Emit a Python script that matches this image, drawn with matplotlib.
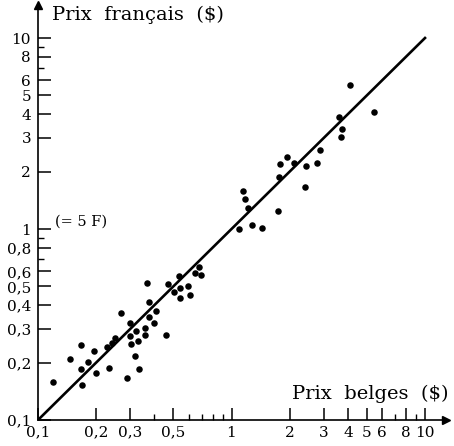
import matplotlib

matplotlib.use("Agg")
import matplotlib.pyplot as plt
from matplotlib.ticker import FixedLocator, NullFormatter

# prix belges (x) et prix français (y), en dollars
prix_belges = [
    0.119, 0.146, 0.166, 0.166, 0.168, 0.181, 0.194, 0.199, 0.226, 0.233,
    0.240, 0.249, 0.270, 0.290, 0.298, 0.300, 0.301, 0.316, 0.320, 0.327,
    0.333, 0.358, 0.358, 0.368, 0.373, 0.376, 0.397, 0.405, 0.460, 0.471,
    0.502, 0.537, 0.539, 0.539, 0.594, 0.609, 0.646, 0.683, 0.694,
    1.09, 1.28, 1.43, 1.14, 1.18, 1.21, 1.74, 1.76, 1.79, 1.93, 2.11,
    2.39, 2.44, 2.78, 2.87, 3.59, 3.72, 3.69, 4.12, 5.48,
]
prix_francais = [
    0.158, 0.209, 0.248, 0.185, 0.152, 0.201, 0.231, 0.176, 0.240, 0.187,
    0.254, 0.270, 0.362, 0.166, 0.321, 0.274, 0.251, 0.216, 0.294, 0.258,
    0.186, 0.303, 0.280, 0.522, 0.413, 0.347, 0.322, 0.371, 0.280, 0.514,
    0.466, 0.567, 0.491, 0.435, 0.501, 0.453, 0.590, 0.633, 0.572,
    1.00, 1.05, 1.01, 1.58, 1.44, 1.29, 1.24, 1.87, 2.18, 2.39, 2.22,
    1.65, 2.14, 2.21, 2.59, 3.87, 3.34, 3.02, 5.68, 4.11,
]

droite = [0.1, 10]

x_major = [0.1, 0.2, 0.3, 0.5, 1, 2, 3, 4, 5, 6, 8, 10]
x_major_labels = ["0,1", "0,2", "0,3", "0,5", "1", "2", "3", "4", "5", "6", "8", "10"]
x_minor = [0.4, 0.6, 0.7, 0.8, 0.9, 7, 9]

y_major = [0.1, 0.2, 0.3, 0.4, 0.5, 0.6, 0.8, 1, 2, 3, 4, 5, 6, 8, 10]
y_major_labels = ["0,1", "0,2", "0,3", "0,4", "0,5", "0,6", "0,8", "1",
                  "2", "3", "4", "5", "6", "8", "10"]
y_minor = [0.7, 0.9, 7, 9]

W, H = 454, 446
fig = plt.figure(figsize=(W / 100, H / 100), dpi=100)
plt.rcParams["font.family"] = ["DejaVu Serif"]

left, right, bottom, top = 38, 446, 420, 5
ax = fig.add_axes([left / W, 1 - bottom / H, (right - left) / W, (bottom - top) / H])
ax.set_xscale("log")
ax.set_yscale("log")
ax.set_xlim(0.1, 10 ** (-1 + (right - left) / 193.5))
ax.set_ylim(0.1, 10 ** (-1 + (bottom - top) / 191))

ax.plot(droite, droite, color="black", lw=1.9, zorder=2)
ax.scatter(prix_belges, prix_francais, s=22, color="black", zorder=3, linewidths=0)

for side in ("top", "right"):
    ax.spines[side].set_visible(False)
for side in ("left", "bottom"):
    ax.spines[side].set_linewidth(1.2)

ax.plot(1, 0, ">", color="black", ms=6, transform=ax.transAxes, clip_on=False)
ax.plot(0, 1, "^", color="black", ms=6, transform=ax.transAxes, clip_on=False)

ax.xaxis.set_major_locator(FixedLocator(x_major))
ax.xaxis.set_minor_locator(FixedLocator(x_minor))
ax.set_xticklabels(x_major_labels)
ax.xaxis.set_minor_formatter(NullFormatter())
ax.yaxis.set_major_locator(FixedLocator(y_major))
ax.yaxis.set_minor_locator(FixedLocator(y_minor))
ax.set_yticklabels(y_major_labels)
ax.yaxis.set_minor_formatter(NullFormatter())

ax.tick_params(which="major", direction="in", length=9, width=1.1, labelsize=11, pad=4)
ax.tick_params(which="minor", direction="in", length=4, width=1.0)
ax.tick_params(axis="y", which="major", pad=5)

fig.text(52 / W, 1 - 15 / H, "Prix  français  ($)", fontsize=14, ha="left", va="center")
fig.text(449 / W, 1 - 394 / H, "Prix  belges  ($)", fontsize=14, ha="right", va="center")
fig.text(55 / W, 1 - 222 / H, "(= 5 F)", fontsize=10.5, ha="left", va="center")

fig.savefig("out.png", dpi=100)
